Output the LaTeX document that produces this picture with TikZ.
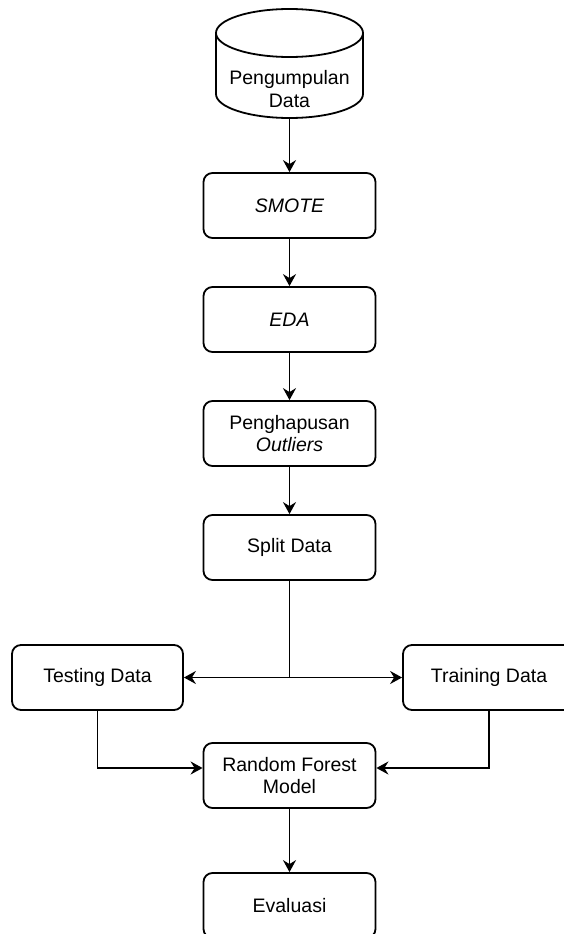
\documentclass[tikz,border=0pt]{standalone}
\usepackage{fontspec}
\setmainfont{Liberation Sans}
\usetikzlibrary{arrows.meta}
\begin{document}
\begin{tikzpicture}[x=1pt,y=-1pt,
  every node/.style={font=\fontsize{19.5}{22.5}\selectfont},
  procbox/.style={draw,line width=1.8pt,rounded corners=9pt,minimum width=172pt,minimum height=65pt,align=center,inner sep=0pt},
  conn/.style={line width=1.8pt},
  arr/.style={conn,-{Stealth[length=12pt,width=13pt,inset=4pt]}}]
\useasboundingbox (0,0) rectangle (564,934);
\clip (0,0) rectangle (564,934);
% cylinder
\draw[line width=1.8pt] (216,33) -- (216,94) arc[start angle=180,end angle=0,x radius=73.5,y radius=24] -- (363,33);
\draw[line width=1.8pt] (289.5,33) ellipse[x radius=73.5,y radius=24];
\node[minimum width=147pt,minimum height=109pt,inner sep=0pt] (cyl) at (289.5,63.5) {};
\node[align=center] (cyltext) at (289.5,89) {Pengumpulan\\Data};
% boxes
\node[procbox] (smote) at (289.5,205.5) {\itshape SMOTE};
\node[procbox] (eda) at (289.5,319.5) {\itshape EDA};
\node[procbox] (outl) at (289.5,433.5) {Penghapusan\\\itshape Outliers};
\node[procbox] (split) at (289.5,547.5) {Split Data};
\node[procbox,minimum width=171pt] (test) at (97.5,677.5) {Testing Data};
\node[procbox] (train) at (489,677.5) {Training Data};
\node[procbox] (rfm) at (289.5,775.5) {Random Forest\\Model};
\node[procbox] (eval) at (289.5,905.5) {Evaluasi};
% connectors
\draw[arr] (cyl.south) -- (smote.north);
\draw[arr] (smote) -- (eda);
\draw[arr] (eda) -- (outl);
\draw[arr] (outl) -- (split);
\coordinate (fork) at (split.south |- test.east);
\draw[conn] (split.south) -- (fork);
\draw[arr] (fork) -- (test.east);
\draw[arr] (fork) -- (train.west);
\draw[arr] (test.south) |- ([yshift=7.5pt]rfm.west);
\draw[arr] (train.south) |- ([yshift=7.5pt]rfm.east);
\draw[arr] (rfm) -- (eval);
\end{tikzpicture}
\end{document}
